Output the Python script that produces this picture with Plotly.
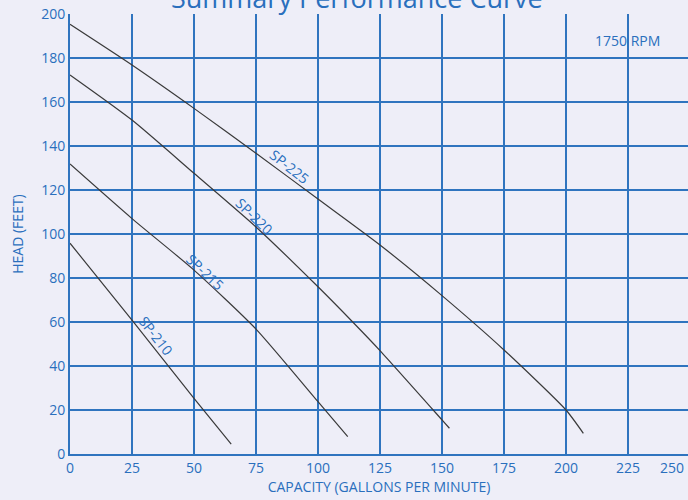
import plotly.graph_objects as go

# --- data ---
sp225_x = [0, 25, 50, 75, 100, 125, 150, 175, 200, 207]
sp225_y = [195.3, 176.8, 157.1, 136.7, 115.9, 95.0, 72.0, 47.3, 20.0, 9.4]

sp220_x = [0, 25, 50, 75, 100, 114, 125, 150, 153]
sp220_y = [172.3, 151.8, 127.6, 103.2, 76.0, 60.0, 47.0, 15.5, 11.7]

sp215_x = [0, 25, 50, 75, 100, 112]
sp215_y = [131.8, 107.0, 83.6, 56.8, 23.8, 7.9]

sp210_x = [0, 25, 50, 65]
sp210_y = [95.8, 60.9, 25.3, 4.5]

x_ticks = [0, 25, 50, 75, 100, 125, 150, 175, 200, 225]
y_ticks = [0, 20, 40, 60, 80, 100, 120, 140, 160, 180, 200]

labels = ["SP-225", "SP-220", "SP-215", "SP-210"]
label_x = [88.5, 74.5, 54.8, 34.7]
label_y = [130.5, 108.0, 82.7, 54.0]
label_angle = [38, 44, 43, 52]

BLUE = "#2a6fbd"
GRID = "#2f74bf"
BG = "#eeeef8"
FONT = "Open Sans"

fig = go.Figure()
for xs, ys in [(sp225_x, sp225_y), (sp220_x, sp220_y), (sp215_x, sp215_y), (sp210_x, sp210_y)]:
    fig.add_trace(go.Scatter(x=xs, y=ys, mode="lines",
                             line=dict(color="#3a3a3a", width=1.2, shape="spline", smoothing=0.6),
                             showlegend=False, hoverinfo="skip"))

for t, lx, ly, a in zip(labels, label_x, label_y, label_angle):
    fig.add_annotation(x=lx, y=ly, xref="x", yref="y", text=t, showarrow=False,
                       textangle=a, font=dict(family=FONT, size=14, color=BLUE))

fig.add_annotation(x=225, y=188, xref="x", yref="y", text="1750 RPM", showarrow=False,
                   font=dict(family=FONT, size=14, color=BLUE))
fig.add_annotation(x=1, y=0, xref="paper", yref="paper", text="250", showarrow=False,
                   xanchor="right", yanchor="top", xshift=-2, yshift=-2,
                   font=dict(family=FONT, size=14, color=BLUE))
fig.add_annotation(x=0.464, y=1, xref="paper", yref="paper", text="Summary Performance Curve",
                   showarrow=False, xanchor="center", yanchor="bottom", yshift=-4,
                   font=dict(family=FONT, size=27, color=BLUE))

fig.update_layout(
    width=688, height=500,
    margin=dict(l=70, r=0, t=14, b=46, autoexpand=False),
    paper_bgcolor=BG, plot_bgcolor=BG,
    font=dict(family=FONT, color=BLUE),
    xaxis=dict(range=[0, 249.2], tickvals=x_ticks, ticktext=[str(v) for v in x_ticks],
               showgrid=True, gridcolor=GRID, gridwidth=2,
               showline=True, linecolor=GRID, linewidth=2, zeroline=False,
               ticks="", tickfont=dict(family=FONT, size=14, color=BLUE),
               title=dict(text="CAPACITY (GALLONS PER MINUTE)", standoff=6,
                          font=dict(family=FONT, size=14, color=BLUE))),
    yaxis=dict(range=[0, 200], tickvals=y_ticks, ticktext=[str(v) for v in y_ticks],
               showgrid=True, gridcolor=GRID, gridwidth=2,
               showline=True, linecolor=GRID, linewidth=2, zeroline=False,
               ticks="", tickfont=dict(family=FONT, size=14, color=BLUE),
               title=dict(text="HEAD (FEET)", standoff=14,
                          font=dict(family=FONT, size=14, color=BLUE))),
)

fig.write_html("out.html", config={"displayModeBar": False},
               post_script="document.body.style.margin='0';document.body.style.background='#eeeef8';")
